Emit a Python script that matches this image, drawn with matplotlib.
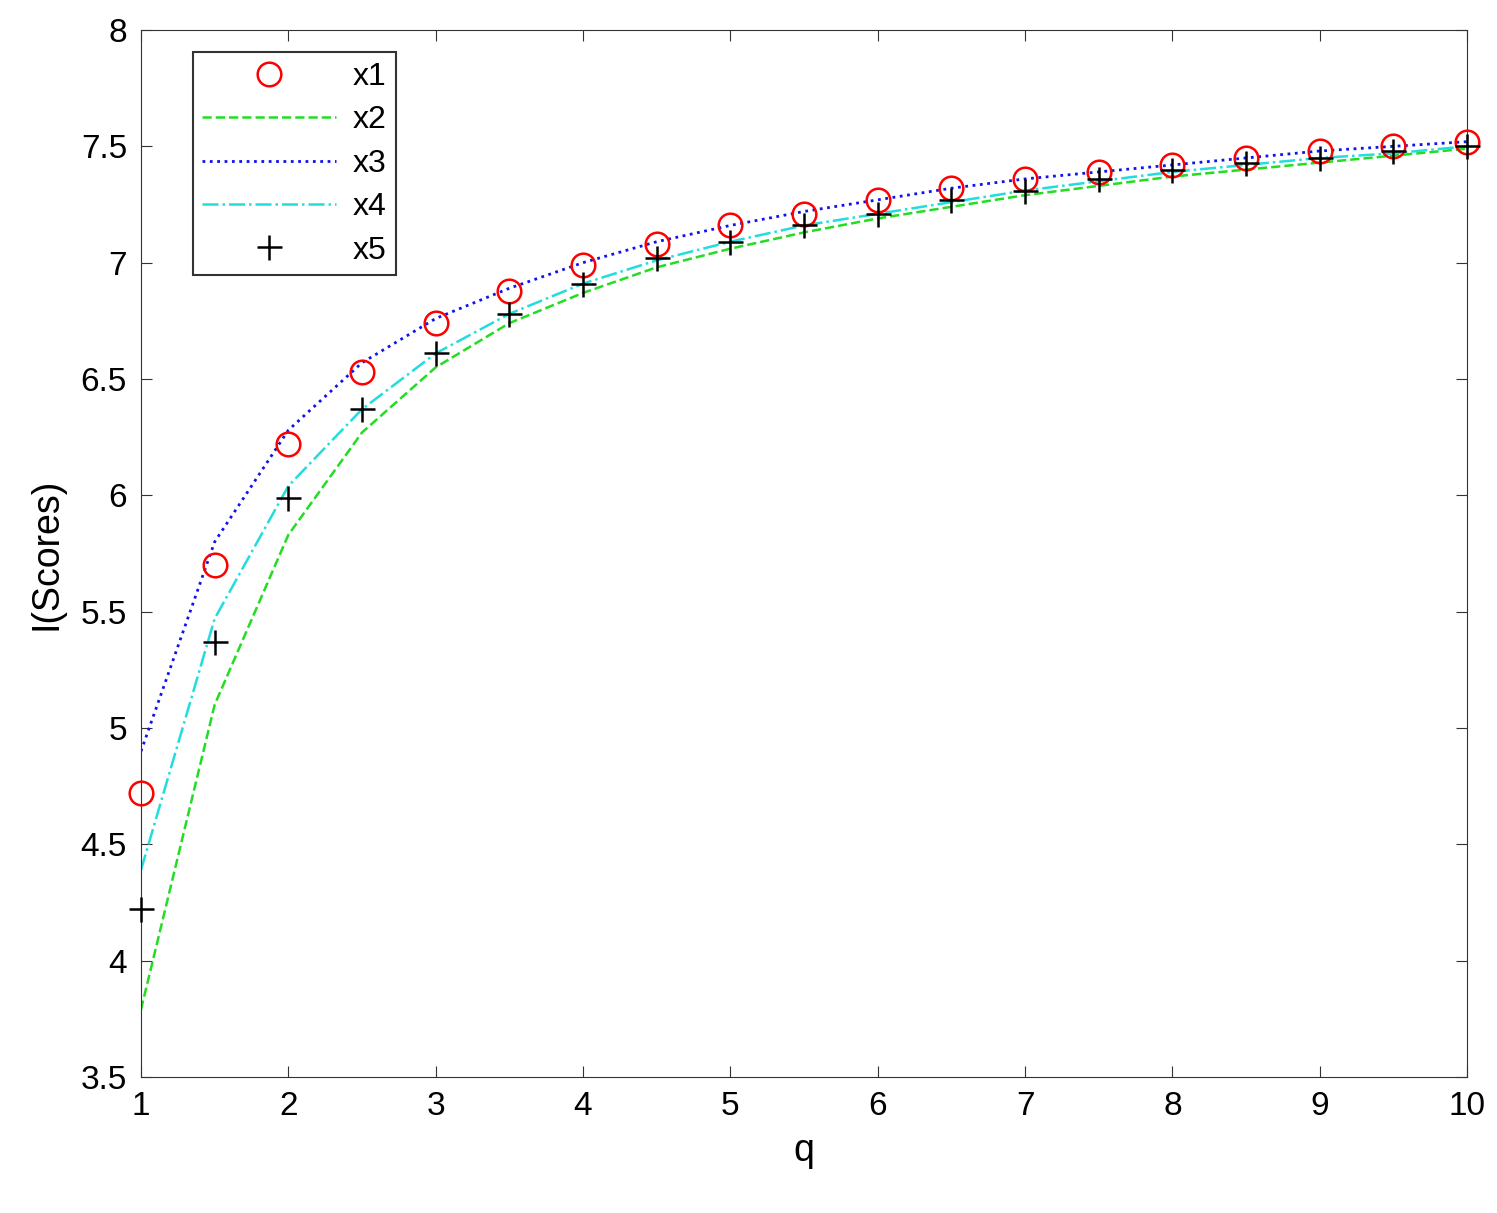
import numpy as np
import matplotlib.pyplot as plt

q = np.arange(1, 10.01, 0.5)
x1 = [4.72, 5.70, 6.22, 6.53, 6.74, 6.88, 6.99, 7.08, 7.16, 7.21, 7.27, 7.32, 7.36, 7.39, 7.42, 7.45, 7.48, 7.50, 7.52]
x2 = [3.79, 5.10, 5.83, 6.27, 6.55, 6.74, 6.87, 6.98, 7.06, 7.13, 7.19, 7.24, 7.29, 7.33, 7.37, 7.40, 7.43, 7.46, 7.49]
x3 = [4.90, 5.80, 6.28, 6.57, 6.76, 6.89, 7.00, 7.09, 7.16, 7.22, 7.27, 7.32, 7.36, 7.39, 7.42, 7.45, 7.48, 7.50, 7.52]
x4 = [4.39, 5.47, 6.04, 6.37, 6.61, 6.78, 6.91, 7.01, 7.09, 7.16, 7.21, 7.26, 7.31, 7.35, 7.39, 7.42, 7.45, 7.47, 7.50]
x5 = [4.22, 5.37, 5.99, 6.37, 6.61, 6.78, 6.91, 7.02, 7.09, 7.16, 7.21, 7.27, 7.31, 7.36, 7.40, 7.43, 7.45, 7.48, 7.50]

plt.rcParams['font.family'] = ['Liberation Sans', 'DejaVu Sans']
fig = plt.figure(figsize=(14.97, 12.13), dpi=100)
ax = fig.add_axes([141/1497, 1 - 1077/1213, (1467-141)/1497, (1077-30)/1213])

ax.plot(q, x1, 'o', mfc='none', mec='red', ms=17, mew=1.8, label='x1', clip_on=False, zorder=3)
ax.plot(q, x2, '--', color='#22dd22', lw=1.8, label='x2')
ax.plot(q, x3, ':', color='#1111ee', lw=2, label='x3')
ax.plot(q, x4, '-.', color='#22dddd', lw=1.8, label='x4')
ax.plot(q, x5, '+', color='black', ms=18, mew=1.8, label='x5', clip_on=False, zorder=4)

ax.set_xlim(1, 10)
ax.set_ylim(3.5, 8)
ax.set_xticks(range(1, 11))
ax.set_yticks(np.arange(3.5, 8.01, 0.5))
ax.set_yticklabels(['3.5', '4', '4.5', '5', '5.5', '6', '6.5', '7', '7.5', '8'])
ax.tick_params(labelsize=24, direction='in', length=8, top=True, right=True, color='#333333', pad=10)
ax.set_xlabel('q', fontsize=27, labelpad=8)
ax.set_ylabel('I(Scores)', fontsize=27, labelpad=12)
leg = ax.legend(loc='upper left', fontsize=23, fancybox=False, edgecolor='black',
                handlelength=4.2, labelspacing=0.42, borderaxespad=0.7, borderpad=0.3,
                handletextpad=0.5, bbox_to_anchor=(0.022, 1.0))
leg.get_frame().set_linewidth(1.5)
for s in ax.spines.values():
    s.set_color('#333333')
fig.savefig('out.png', dpi=100)
